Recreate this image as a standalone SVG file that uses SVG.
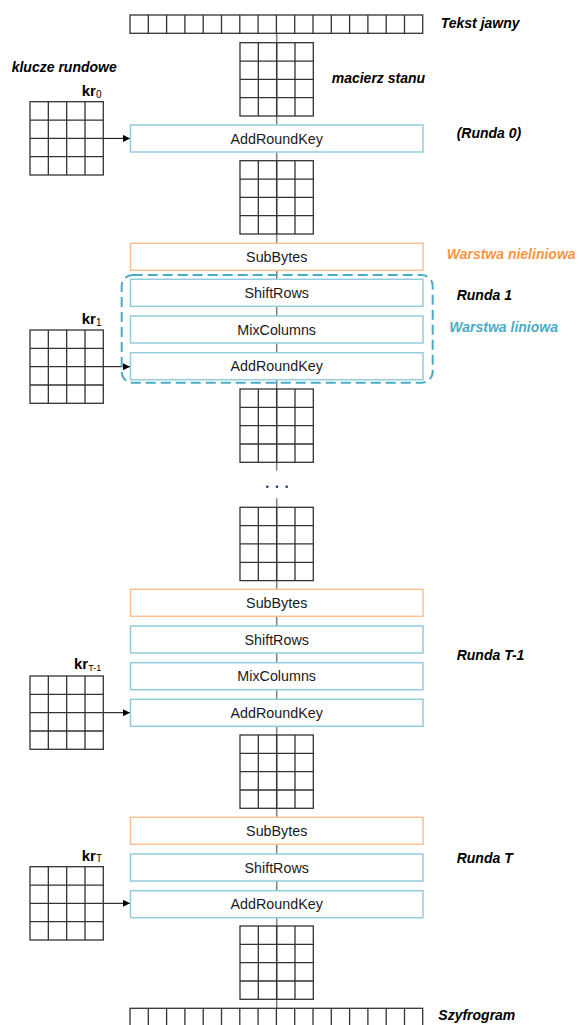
<svg xmlns="http://www.w3.org/2000/svg" xmlns:xlink="http://www.w3.org/1999/xlink" width="579" height="1025" viewBox="0 0 579 1025">
  <style>
    .grid { fill: none; stroke: #333; stroke-width: 1.3; }
    .box-lin { fill: #fff; stroke: #92cddc; stroke-width: 1.5; }
    .box-sub { fill: #fff; stroke: #fac090; stroke-width: 1.5; }
    .op { font-family: "Liberation Sans", Arial, sans-serif; font-size: 14.3px; fill: #1a1a1a; text-anchor: middle; }
    .lbl { font-family: "Liberation Sans", Arial, sans-serif; font-size: 14px; font-weight: bold; font-style: italic; fill: #000; }
    .kr { font-family: "Liberation Sans", Arial, sans-serif; font-size: 15px; font-weight: bold; fill: #000; }
    .sub { font-size: 10px; font-weight: normal; }
    .flow { stroke: #7f7f7f; stroke-width: 1.5; fill: none; }
    .key { stroke: #000; stroke-width: 1; fill: none; }
  </style>
  <defs>
    <!-- 4x4 state / key matrix -->
    <g id="m4">
      <rect class="grid" x="0" y="0" width="73.3" height="73.3"/>
      <path class="grid" d="M18.33 0V73.3M36.67 0V73.3M55 0V73.3M0 18.33H73.3M0 36.67H73.3M0 55H73.3"/>
    </g>
    <!-- 16-byte row -->
    <g id="row16">
      <rect class="grid" x="0" y="0" width="292.7" height="18.3"/>
      <path class="grid" d="M18.3 0v18.3M36.6 0v18.3M54.9 0v18.3M73.2 0v18.3M91.5 0v18.3M109.8 0v18.3M128.1 0v18.3M146.4 0v18.3M164.7 0v18.3M183 0v18.3M201.3 0v18.3M219.6 0v18.3M237.9 0v18.3M256.2 0v18.3M274.5 0v18.3"/>
    </g>
    <marker id="ah" viewBox="0 0 10 10" refX="10" refY="5" markerWidth="7" markerHeight="7" orient="auto" markerUnits="userSpaceOnUse">
      <path d="M0 0L10 5L0 10z" fill="#000"/>
    </marker>
  </defs>

  <rect width="579" height="1025" fill="#fff"/>

  <!-- data path and key arrows -->
  <g id="connectors">
    <path class="flow" d="M276.7 33.3V470.7M276.7 498.3V1008.3"/>
    <path class="key" d="M103.3 138.4H130" marker-end="url(#ah)"/>
    <path class="key" d="M103.3 366.7H130" marker-end="url(#ah)"/>
    <path class="key" d="M103.3 712.7H130" marker-end="url(#ah)"/>
    <path class="key" d="M103.3 903.3H130" marker-end="url(#ah)"/>
  </g>

  <g id="plaintext">
    <use xlink:href="#row16" x="130" y="15"/>
    <text class="lbl" x="440.7" y="28">Tekst jawny</text>
  </g>
  <g id="state0">
    <use xlink:href="#m4" x="240" y="42.7"/>
    <text class="lbl" x="331.7" y="83">macierz stanu</text>
  </g>

  <g id="keys-title">
    <text class="lbl" x="11.7" y="71.7">klucze rundowe</text>
  </g>
  <g id="kr0">
    <use xlink:href="#m4" x="30" y="101.7"/>
    <text class="kr" x="81.7" y="96">kr<tspan class="sub" dy="1.5">0</tspan></text>
  </g>

  <!-- round 0 -->
  <g id="ark0">
    <rect class="box-lin" x="130.5" y="125" width="292.5" height="27"/>
    <text class="op" x="276.7" y="143.5">AddRoundKey</text>
    <text class="lbl" x="456.7" y="138">(Runda 0)</text>
  </g>
  <g id="state1"><use xlink:href="#m4" x="240" y="160.7"/></g>

  <!-- round 1 -->
  <g id="sb1">
    <rect class="box-sub" x="130.5" y="243.3" width="292.5" height="27"/>
    <text class="op" x="276.7" y="261.8">SubBytes</text>
    <text class="lbl" x="446.7" y="259" style="fill:#f79646">Warstwa nieliniowa</text>
  </g>
  <g id="linear-layer">
    <rect x="121.7" y="275" width="311" height="107.7" rx="11" fill="none" stroke="#4bacc6" stroke-width="2" stroke-dasharray="10 5"/>
    <text class="lbl" x="449.3" y="331.7" style="fill:#4bacc6">Warstwa liniowa</text>
  </g>
  <g id="sr1">
    <rect class="box-lin" x="130.5" y="279.3" width="292.5" height="27"/>
    <text class="op" x="276.7" y="297.8">ShiftRows</text>
    <text class="lbl" x="456.7" y="300">Runda 1</text>
  </g>
  <g id="mc1">
    <rect class="box-lin" x="130.5" y="316" width="292.5" height="27"/>
    <text class="op" x="276.7" y="334.5">MixColumns</text>
  </g>
  <g id="ark1">
    <rect class="box-lin" x="130.5" y="352.7" width="292.5" height="27"/>
    <text class="op" x="276.7" y="371.2">AddRoundKey</text>
  </g>
  <g id="kr1">
    <use xlink:href="#m4" x="30" y="330"/>
    <text class="kr" x="81.7" y="324">kr<tspan class="sub" dy="1.5">1</tspan></text>
  </g>
  <g id="state2"><use xlink:href="#m4" x="240" y="389"/></g>

  <g id="ellipsis" fill="#1f3864">
    <circle cx="267.3" cy="486.7" r="1.3"/>
    <circle cx="277" cy="486.7" r="1.3"/>
    <circle cx="286.7" cy="486.7" r="1.3"/>
  </g>

  <g id="state3"><use xlink:href="#m4" x="240" y="507.3"/></g>

  <!-- round T-1 -->
  <g id="sb2">
    <rect class="box-sub" x="130.5" y="589.3" width="292.5" height="27"/>
    <text class="op" x="276.7" y="607.8">SubBytes</text>
  </g>
  <g id="sr2">
    <rect class="box-lin" x="130.5" y="626" width="292.5" height="27"/>
    <text class="op" x="276.7" y="644.5">ShiftRows</text>
  </g>
  <g id="mc2">
    <rect class="box-lin" x="130.5" y="662.7" width="292.5" height="27"/>
    <text class="op" x="276.7" y="681.2">MixColumns</text>
    <text class="lbl" x="456.7" y="660">Runda T-1</text>
  </g>
  <g id="ark2">
    <rect class="box-lin" x="130.5" y="699.3" width="292.5" height="27"/>
    <text class="op" x="276.7" y="717.8">AddRoundKey</text>
  </g>
  <g id="krT-1">
    <use xlink:href="#m4" x="30" y="676"/>
    <text class="kr" x="74" y="669.3">kr<tspan class="sub" dy="1.5" style="font-size:9px">T-1</tspan></text>
  </g>
  <g id="state4"><use xlink:href="#m4" x="240" y="735"/></g>

  <!-- round T -->
  <g id="sb3">
    <rect class="box-sub" x="130.5" y="817.3" width="292.5" height="27"/>
    <text class="op" x="276.7" y="835.8">SubBytes</text>
  </g>
  <g id="sr3">
    <rect class="box-lin" x="130.5" y="854" width="292.5" height="27"/>
    <text class="op" x="276.7" y="872.5">ShiftRows</text>
    <text class="lbl" x="456.7" y="863">Runda T</text>
  </g>
  <g id="ark3">
    <rect class="box-lin" x="130.5" y="890.7" width="292.5" height="27"/>
    <text class="op" x="276.7" y="909.2">AddRoundKey</text>
  </g>
  <g id="krT">
    <use xlink:href="#m4" x="30" y="866.7"/>
    <text class="kr" x="81.7" y="860.7">kr<tspan class="sub" dy="1.5">T</tspan></text>
  </g>
  <g id="state5"><use xlink:href="#m4" x="240" y="926"/></g>

  <g id="ciphertext">
    <use xlink:href="#row16" x="130" y="1008.3"/>
    <text class="lbl" x="438.3" y="1020">Szyfrogram</text>
  </g>
</svg>
